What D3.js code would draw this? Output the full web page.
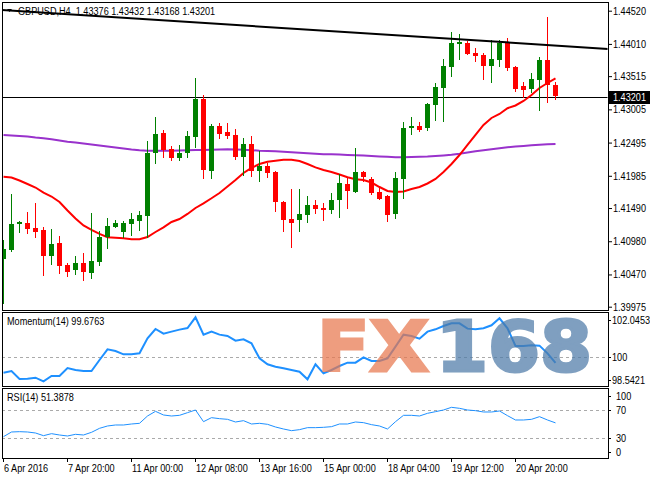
<!DOCTYPE html>
<html><head><meta charset="utf-8">
<script src="https://cdn.jsdelivr.net/npm/d3@7"></script>
<style>
html,body{margin:0;padding:0;background:#fff;}
svg{display:block;}
text{font-family:"Liberation Sans",Arial,sans-serif;font-size:11px;fill:#000;}
</style></head><body>
<svg id="c" width="650" height="480"></svg>
<script>
// ---------------- DATA ----------------
const symbolTitle = "GBPUSD,H4";
const lastQuote = [1.43376, 1.43432, 1.43168, 1.43201];
const currentPrice = 1.43201;

const opens = [1.40703,1.40846,1.41234,1.41260,1.41184,1.41153,1.40754,1.40953,1.40611,1.40528,
1.40642,1.40497,1.40666,1.41041,1.41204,1.41127,1.41245,1.41296,1.41372,1.42331,
1.42638,1.42397,1.42266,1.42331,1.42576,1.43160,1.42063,1.42754,1.42658,1.42612,
1.42278,1.42473,1.42063,1.42136,1.42043,1.41583,1.41322,1.41306,1.41383,1.41537,
1.41491,1.41460,1.41614,1.41859,1.41741,1.42048,1.41931,1.41741,1.41680,1.41394,
1.41936,1.42724,1.42750,1.42714,1.43072,1.43338,1.43660,1.44020,1.44029,1.43875,
1.43840,1.43676,1.43763,1.44020,1.43660,1.43368,1.43313,1.43456,1.43763,1.43376];
const highs = [1.40999,1.41706,1.41296,1.41434,1.41572,1.41194,1.41164,1.41061,1.40651,1.40754,
1.40804,1.41419,1.41138,1.41337,1.41302,1.41291,1.41409,1.41445,1.42524,1.42883,
1.42688,1.42443,1.42458,1.42678,1.43491,1.43226,1.42780,1.42791,1.42800,1.42704,
1.42570,1.42596,1.42370,1.42177,1.42059,1.41598,1.41782,1.41778,1.41675,1.41614,
1.41563,1.41726,1.42013,1.41971,1.42417,1.42063,1.41971,1.41793,1.41690,1.42048,
1.42816,1.42893,1.42816,1.43098,1.43415,1.43774,1.44188,1.44167,1.44059,1.43943,
1.43875,1.44070,1.44070,1.44096,1.43671,1.43430,1.43568,1.43805,1.44419,1.43432];
const lows = [1.40032,1.40835,1.41127,1.41102,1.41041,1.40462,1.40631,1.40497,1.40447,1.40473,
1.40385,1.40411,1.40620,1.40881,1.41194,1.41050,1.41076,1.41153,1.41050,1.42186,
1.42278,1.42228,1.42228,1.42269,1.42432,1.41947,1.41947,1.42570,1.42570,1.42238,
1.42002,1.41982,1.41910,1.41971,1.41449,1.41142,1.40897,1.41142,1.41280,1.41419,
1.41306,1.41419,1.41357,1.41495,1.41736,1.41910,1.41706,1.41624,1.41291,1.41342,
1.41649,1.42622,1.42673,1.42688,1.42842,1.42831,1.43517,1.43774,1.43855,1.43752,
1.43471,1.43430,1.43676,1.43610,1.43292,1.43200,1.43276,1.42995,1.43123,1.43168];
const closes = [1.40857,1.41245,1.41271,1.41168,1.41122,1.40754,1.40938,1.40600,1.40508,1.40642,
1.40497,1.40677,1.41045,1.41214,1.41260,1.41260,1.41326,1.41388,1.42340,1.42627,
1.42381,1.42266,1.42340,1.42596,1.43164,1.42063,1.42750,1.42627,1.42596,1.42278,
1.42473,1.42063,1.42136,1.42033,1.41578,1.41306,1.41256,1.41399,1.41537,1.41480,
1.41465,1.41614,1.41879,1.41756,1.42043,1.41971,1.41716,1.41640,1.41383,1.41947,
1.42714,1.42750,1.42688,1.43088,1.43344,1.43671,1.44029,1.44044,1.43866,1.43829,
1.43676,1.43778,1.44020,1.43636,1.43329,1.43313,1.43471,1.43763,1.43376,1.43201];

const maFast = [1.41971,1.41959,1.41913,1.41859,1.41805,1.41726,1.41667,1.41583,1.41452,1.41330,
1.41222,1.41153,1.41092,1.41041,1.41035,1.41025,1.41010,1.41010,1.41045,1.41122,
1.41194,1.41276,1.41322,1.41399,1.41491,1.41563,1.41640,1.41721,1.41821,1.41921,
1.42028,1.42105,1.42166,1.42200,1.42217,1.42231,1.42231,1.42212,1.42166,1.42114,
1.42074,1.42043,1.42005,1.41962,1.41931,1.41921,1.41882,1.41813,1.41752,1.41736,
1.41743,1.41782,1.41813,1.41867,1.41936,1.42043,1.42166,1.42304,1.42458,1.42612,
1.42765,1.42873,1.42934,1.43023,1.43065,1.43134,1.43226,1.43333,1.43410,1.43482];
const maSlow = [1.42612,1.42604,1.42596,1.42589,1.42573,1.42561,1.42545,1.42527,1.42509,1.42496,
1.42481,1.42466,1.42450,1.42435,1.42420,1.42404,1.42389,1.42377,1.42370,1.42370,
1.42370,1.42370,1.42374,1.42377,1.42381,1.42381,1.42386,1.42389,1.42392,1.42389,
1.42384,1.42378,1.42370,1.42366,1.42361,1.42355,1.42346,1.42338,1.42331,1.42324,
1.42317,1.42314,1.42311,1.42306,1.42301,1.42295,1.42289,1.42283,1.42277,1.42271,
1.42269,1.42274,1.42277,1.42281,1.42289,1.42298,1.42309,1.42323,1.42343,1.42361,
1.42378,1.42394,1.42409,1.42423,1.42433,1.42443,1.42453,1.42461,1.42469,1.42473];

const momentum = [99.168,99.255,98.839,98.856,98.908,98.718,98.995,98.995,99.411,99.307,
99.255,99.255,99.827,100.381,100.295,100.121,100.121,100.173,100.953,101.438,
101.196,101.300,101.404,101.490,102.045,101.144,101.300,101.144,101.075,100.832,
100.901,100.693,99.913,99.601,99.480,99.393,99.307,99.220,98.821,99.601,
99.133,99.307,99.515,99.688,99.688,99.965,99.775,99.775,99.913,100.520,
101.144,101.075,100.936,101.300,101.421,101.594,101.733,101.733,101.456,101.421,
101.473,101.629,101.993,101.473,100.555,100.555,100.589,100.572,100.173,99.676];
const rsi = [31.45,38.19,38.67,38.19,36.75,32.89,35.78,33.86,32.41,34.82,
33.86,37.71,43.49,46.87,48.31,48.31,49.76,50.72,61.33,68.07,
62.77,61.33,62.29,66.14,70.00,53.13,58.92,57.47,56.51,52.65,
54.58,49.76,50.72,49.28,45.42,42.53,40.12,41.57,44.46,44.46,
44.94,45.90,49.76,49.76,52.65,51.69,48.80,46.87,42.53,53.13,
62.29,62.29,61.33,65.18,67.59,70.00,73.86,72.41,70.00,69.04,
67.11,67.11,68.55,61.81,55.54,55.54,56.51,60.36,55.54,51.39];

const priceTicks = [1.44520,1.44010,1.43515,1.43005,1.42495,1.41985,1.41490,1.40980,1.40470,1.39975];
const momTicks = [102.0453, 100, 98.5421];
const momLevel = 100;
const rsiTicks = [100, 70, 30, 0];
const rsiLevels = [70, 30];
const momLabel = "Momentum(14) 99.6763";
const rsiLabel = "RSI(14) 51.3878";
const timeLabelBars = [0, 8, 16, 24, 32, 40, 48, 56, 64];
const timeLabels = ["6 Apr 2016","7 Apr 20:00","11 Apr 00:00","12 Apr 08:00","13 Apr 16:00","15 Apr 00:00","18 Apr 04:00","19 Apr 12:00","20 Apr 20:00"];
const trendBars = [0, 75];
const trendPrices = [1.44528, 1.43938];
const watermark = ["FX", "168"];

// ---------------- LAYOUT ----------------
const svg = d3.select("#c");
const L = 2, R = 608;
const SX = 0.83; // narrow text (MT4 Tahoma look)
const main = {top: 2, bottom: 310};
const mom = {top: 312, bottom: 386};
const rsiP = {top: 388, bottom: 458};
const n = closes.length;

function txt(g, xx, yy, s, fill) {
  return g.append("text").attr("transform", `translate(${xx},${yy}) scale(${SX},1)`)
    .attr("dy", "0.35em").style("fill", fill || "#000").attr("xml:space", "preserve").text(s);
}

const x = d3.scaleLinear().domain([0, n - 1]).range([3.5, 3.5 + 8 * (n - 1)]);
const y = d3.scaleLinear().domain([1.39975, 1.44520]).range([306.7, 10.7]);
const yM = d3.scaleLinear().domain([98.5421, 102.0453]).range([384.7, 317.3]);
const yR = d3.scaleLinear().domain([0, 100]).range([458.4, 389.25]);

const defs = svg.append("defs");
function clip(id, p) {
  defs.append("clipPath").attr("id", id).append("rect")
    .attr("x", L + 0.5).attr("y", p.top + 0.5).attr("width", R - L - 1).attr("height", p.bottom - p.top - 1);
}
clip("cm", main); clip("cmo", mom); clip("cr", rsiP);

// ---- main panel ----
const gMain = svg.append("g").attr("clip-path", "url(#cm)");
gMain.append("line").attr("x1", L).attr("x2", R)
  .attr("y1", Math.round(y(currentPrice)) + 0.5).attr("y2", Math.round(y(currentPrice)) + 0.5)
  .attr("stroke", "#000").attr("stroke-width", 1);

const lineMain = d3.line().x((d, i) => x(i)).y(d => y(d));
gMain.append("path").datum(maSlow).attr("d", lineMain).attr("fill", "none")
  .attr("stroke", "#9932CC").attr("stroke-width", 2);
gMain.append("path").datum(maFast).attr("d", lineMain).attr("fill", "none")
  .attr("stroke", "#FF0000").attr("stroke-width", 2);

const idx = d3.range(n);
const cg = gMain.append("g");
cg.selectAll("line.w").data(idx).join("line").attr("class", "w")
  .attr("x1", i => x(i)).attr("x2", i => x(i))
  .attr("y1", i => Math.round(y(highs[i]))).attr("y2", i => Math.round(y(lows[i])) + 1)
  .attr("stroke", i => closes[i] >= opens[i] ? "#008000" : "#FF0000").attr("stroke-width", 1);
cg.selectAll("rect.b").data(idx).join("rect").attr("class", "b")
  .attr("x", i => x(i) - 2.5).attr("width", 5)
  .attr("y", i => Math.round(y(Math.max(opens[i], closes[i]))))
  .attr("height", i => Math.max(2, Math.round(Math.abs(y(opens[i]) - y(closes[i])))))
  .attr("fill", i => closes[i] >= opens[i] ? "#008000" : "#FF0000");

// title
svg.append("path").attr("d", "M7,9 L12,9 L9.5,12 Z").attr("fill", "#000");
txt(svg, 18, 11, symbolTitle + "  " + lastQuote.map(d => d.toFixed(5)).join(" "));

// trend line
const slope = (trendPrices[1] - trendPrices[0]) / (trendBars[1] - trendBars[0]);
const bA = x.invert(L), bB = x.invert(R);
gMain.append("line")
  .attr("x1", L).attr("y1", y(trendPrices[0] + slope * (bA - trendBars[0])))
  .attr("x2", R).attr("y2", y(trendPrices[0] + slope * (bB - trendBars[0])))
  .attr("stroke", "#000").attr("stroke-width", 2);

// price axis
const ax = svg.append("g").attr("transform", `translate(${R},0)`)
  .call(d3.axisRight(y).tickValues(priceTicks).tickSize(4).tickPadding(2).tickFormat(d3.format(".5f")));
ax.select(".domain").remove();
ax.selectAll("line").attr("stroke", "#000");
ax.selectAll("text").attr("font-family", null).attr("font-size", null)
  .attr("x", null).attr("transform", `translate(5,0) scale(${SX},1)`).style("fill", "#000");

// current price marker
const cy = Math.round(y(currentPrice)) + 0.5;
svg.append("rect").attr("x", R + 1).attr("y", cy - 6.5).attr("width", 41).attr("height", 13).attr("fill", "#000");
txt(svg, R + 5, cy, currentPrice.toFixed(5), "#fff");

// ---- momentum panel ----
const gMom = svg.append("g").attr("clip-path", "url(#cmo)");
gMom.append("line").attr("x1", L).attr("x2", R).attr("y1", Math.round(yM(momLevel)) + 0.5).attr("y2", Math.round(yM(momLevel)) + 0.5)
  .attr("stroke", "#aaa").attr("stroke-dasharray", "3,3");
gMom.append("path").datum(momentum).attr("d", d3.line().x((d, i) => x(i)).y(d => yM(d)))
  .attr("fill", "none").attr("stroke", "#1E90FF").attr("stroke-width", 2);
txt(svg, 7, 321, momLabel);
momTicks.forEach(v => {
  const yy = Math.max(mom.top + 8, Math.min(mom.bottom - 6, yM(v)));
  svg.append("line").attr("x1", R).attr("x2", R + 3).attr("y1", Math.round(yy) + 0.5).attr("y2", Math.round(yy) + 0.5).attr("stroke", "#000");
  txt(svg, R + 4, yy, v === 100 ? "100" : v.toFixed(4));
});

// watermark
const wm = svg.append("g").attr("opacity", 0.72);
wm.append("text").attr("x", 317).attr("y", 371).style("font-family", "'DejaVu Sans',sans-serif").style("font-weight", "bold")
  .style("font-size", "69px").style("fill", "#E8784F").style("stroke", "#E8784F").style("stroke-width", 3)
  .attr("textLength", 112).attr("lengthAdjust", "spacingAndGlyphs").text(watermark[0]);
wm.append("text").attr("x", 436).attr("y", 371).style("font-family", "'DejaVu Sans',sans-serif").style("font-weight", "bold")
  .style("font-size", "69px").style("fill", "#4E7BA8").style("stroke", "#4E7BA8").style("stroke-width", 3)
  .attr("textLength", 156).attr("lengthAdjust", "spacingAndGlyphs").text(watermark[1]);

// ---- RSI panel ----
const gR = svg.append("g").attr("clip-path", "url(#cr)");
rsiLevels.forEach(v => gR.append("line").attr("x1", L).attr("x2", R)
  .attr("y1", Math.round(yR(v)) + 0.5).attr("y2", Math.round(yR(v)) + 0.5)
  .attr("stroke", "#aaa").attr("stroke-dasharray", "3,3"));
gR.append("path").datum(rsi).attr("d", d3.line().x((d, i) => x(i)).y(d => yR(d)))
  .attr("fill", "none").attr("stroke", "#1E90FF").attr("stroke-width", 1);
txt(svg, 7, 397, rsiLabel);
rsiTicks.forEach(v => {
  const yy = Math.max(rsiP.top + 8, Math.min(rsiP.bottom - 6, yR(v)));
  svg.append("line").attr("x1", R).attr("x2", R + 3).attr("y1", Math.round(yy) + 0.5).attr("y2", Math.round(yy) + 0.5).attr("stroke", "#000");
  txt(svg, R + 8, yy, String(v));
});

// ---- panel borders ----
[main, mom, rsiP].forEach(p => svg.append("rect")
  .attr("x", L + 0.5).attr("y", p.top + 0.5).attr("width", R - L).attr("height", p.bottom - p.top)
  .attr("fill", "none").attr("stroke", "#000").attr("stroke-width", 1));

// ---- time axis ----
timeLabelBars.forEach((b, k) => {
  const xx = Math.round(x(b)) - 1;
  svg.append("line").attr("x1", xx + 0.5).attr("x2", xx + 0.5).attr("y1", rsiP.bottom).attr("y2", rsiP.bottom + 4).attr("stroke", "#000");
  txt(svg, xx + 1, 468, timeLabels[k]);
});
</script>
</body></html>
